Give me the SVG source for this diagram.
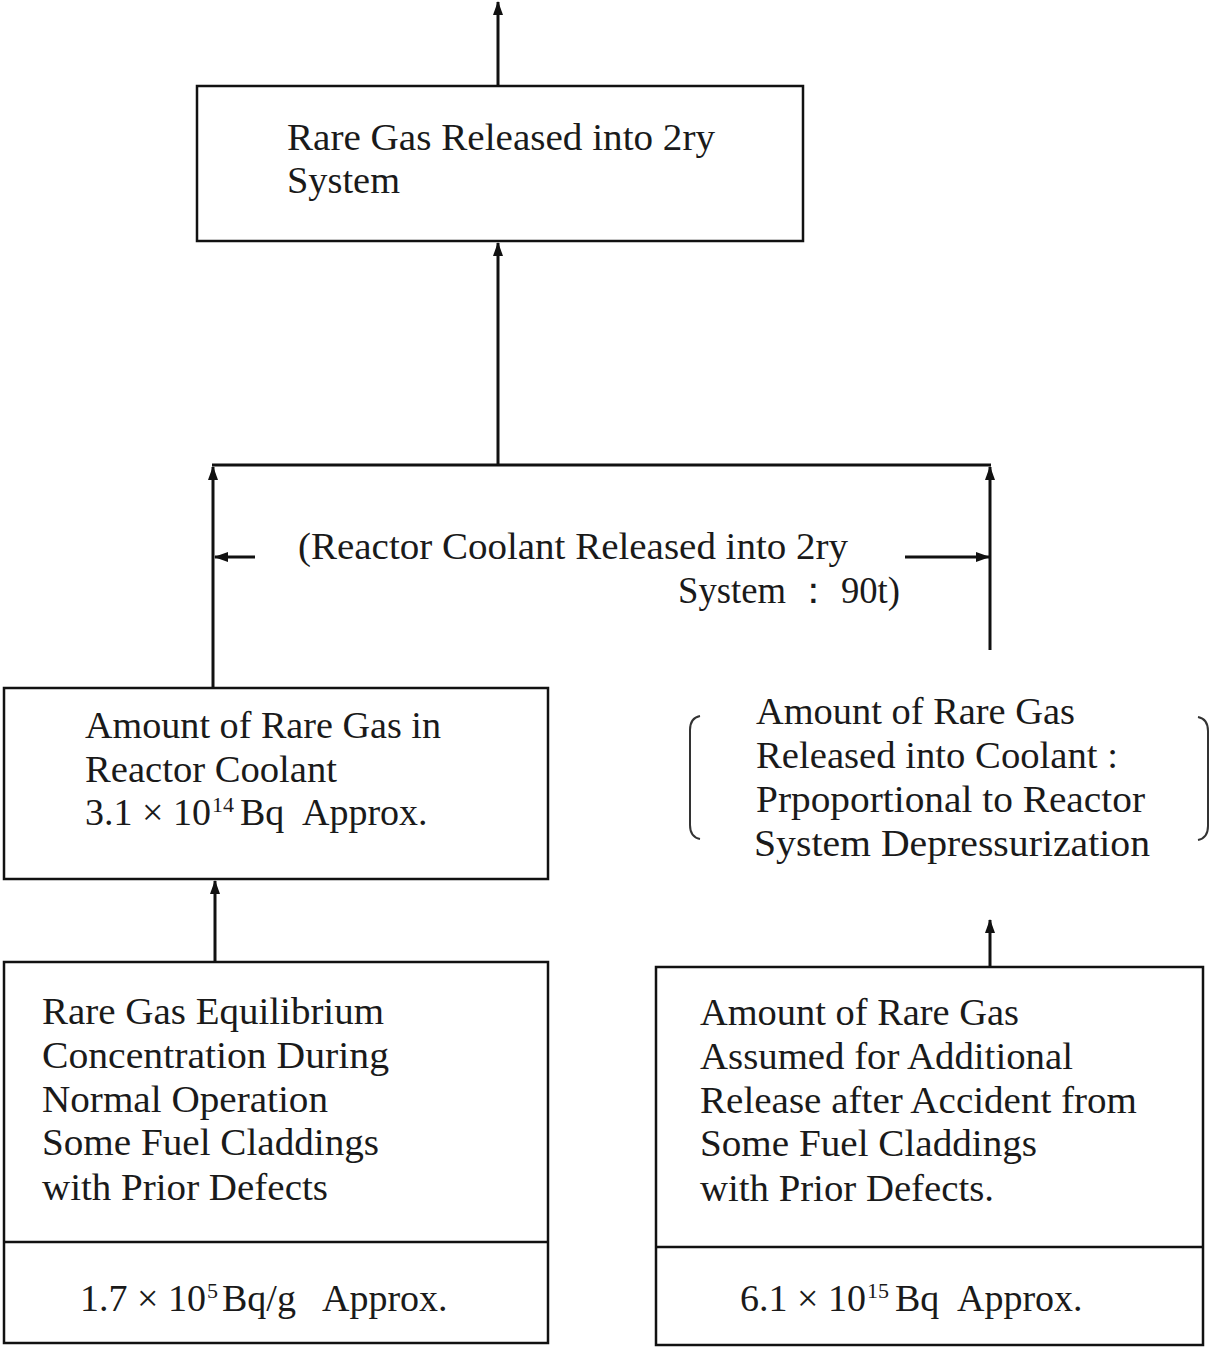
<svg xmlns="http://www.w3.org/2000/svg" width="1210" height="1349" viewBox="0 0 1210 1349">
<style>
.bx{fill:none;stroke:#111;stroke-width:2.5}
.ln{fill:none;stroke:#111;stroke-width:3}
.br{fill:none;stroke:#333;stroke-width:2}
text{font-family:"Liberation Serif","Times New Roman",serif;font-size:38px;fill:#1a1a1a}
.sup{font-size:22px}
</style>
<defs>
<marker id="ah" viewBox="0 0 14 10" refX="13" refY="5" markerWidth="14" markerHeight="10" markerUnits="userSpaceOnUse" orient="auto">
<path d="M0,0 L14,5 L0,10 z" fill="#111"/>
</marker>
</defs>
<rect x="0" y="0" width="1210" height="1349" fill="#fff"/>
<g id="connectors">
<line class="ln" x1="498" y1="86" x2="498" y2="2" marker-end="url(#ah)"/>
<line class="ln" x1="498" y1="465" x2="498" y2="243" marker-end="url(#ah)"/>
<line class="ln" x1="212" y1="465" x2="991" y2="465"/>
<line class="ln" x1="213" y1="688" x2="213" y2="467" marker-end="url(#ah)"/>
<line class="ln" x1="990" y1="650" x2="990" y2="467" marker-end="url(#ah)"/>
<line class="ln" x1="255" y1="557" x2="215" y2="557" marker-end="url(#ah)"/>
<line class="ln" x1="905" y1="557" x2="989" y2="557" marker-end="url(#ah)"/>
<line class="ln" x1="215" y1="962" x2="215" y2="881" marker-end="url(#ah)"/>
<line class="ln" x1="990" y1="967" x2="990" y2="920" marker-end="url(#ah)"/>
</g>
<g id="n-released">
<rect class="bx" x="197" y="86" width="606" height="155"/>
<text x="287" y="150" textLength="428" lengthAdjust="spacingAndGlyphs">Rare Gas Released into 2ry</text>
<text x="287" y="193" textLength="113" lengthAdjust="spacingAndGlyphs">System</text>
</g>
<g id="n-coolant-label">
<text x="298" y="559" textLength="550" lengthAdjust="spacingAndGlyphs">(Reactor Coolant Released into 2ry</text>
<text x="678" y="603" textLength="222" lengthAdjust="spacingAndGlyphs">System ： 90t)</text>
</g>
<g id="n-amount-coolant">
<rect class="bx" x="4" y="688" width="544" height="191"/>
<text x="85" y="738" textLength="356" lengthAdjust="spacingAndGlyphs">Amount of Rare Gas in</text>
<text x="85" y="782" textLength="252" lengthAdjust="spacingAndGlyphs">Reactor Coolant</text>
<text x="85" y="825">3.1 × 10</text>
<text class="sup" x="212" y="812">14</text>
<text x="240" y="825">Bq</text>
<text x="302" y="825">Approx.</text>
</g>
<g id="n-proportional">
<path class="br" d="M700,716 Q690,718 690,730 L690,825 Q690,837 700,839"/>
<path class="br" d="M1198,717 Q1208,719 1208,731 L1208,826 Q1208,838 1198,840"/>
<text x="756" y="724" textLength="319" lengthAdjust="spacingAndGlyphs">Amount of Rare Gas</text>
<text x="756" y="768" textLength="362" lengthAdjust="spacingAndGlyphs">Released into Coolant :</text>
<text x="756" y="812" textLength="389" lengthAdjust="spacingAndGlyphs">Prpoportional to Reactor</text>
<text x="754" y="856" textLength="396" lengthAdjust="spacingAndGlyphs">System Depressurization</text>
</g>
<g id="n-equilibrium">
<rect class="bx" x="4" y="962" width="544" height="381"/>
<line class="bx" x1="4" y1="1242" x2="548" y2="1242"/>
<text x="42" y="1024" textLength="342" lengthAdjust="spacingAndGlyphs">Rare Gas Equilibrium</text>
<text x="42" y="1068" textLength="347" lengthAdjust="spacingAndGlyphs">Concentration During</text>
<text x="42" y="1112" textLength="286" lengthAdjust="spacingAndGlyphs">Normal Operation</text>
<text x="42" y="1155" textLength="337" lengthAdjust="spacingAndGlyphs">Some Fuel Claddings</text>
<text x="42" y="1200" textLength="286" lengthAdjust="spacingAndGlyphs">with Prior Defects</text>
<text x="80" y="1311">1.7 × 10</text>
<text class="sup" x="207" y="1298">5</text>
<text x="222" y="1311">Bq/g</text>
<text x="322" y="1311">Approx.</text>
</g>
<g id="n-additional">
<rect class="bx" x="656" y="967" width="547" height="378"/>
<line class="bx" x1="656" y1="1247" x2="1203" y2="1247"/>
<text x="700" y="1025" textLength="319" lengthAdjust="spacingAndGlyphs">Amount of Rare Gas</text>
<text x="700" y="1069" textLength="373" lengthAdjust="spacingAndGlyphs">Assumed for Additional</text>
<text x="700" y="1113" textLength="437" lengthAdjust="spacingAndGlyphs">Release after Accident from</text>
<text x="700" y="1156" textLength="337" lengthAdjust="spacingAndGlyphs">Some Fuel Claddings</text>
<text x="700" y="1201" textLength="294" lengthAdjust="spacingAndGlyphs">with Prior Defects.</text>
<text x="740" y="1311">6.1 × 10</text>
<text class="sup" x="867" y="1298">15</text>
<text x="895" y="1311">Bq</text>
<text x="957" y="1311">Approx.</text>
</g>
</svg>
